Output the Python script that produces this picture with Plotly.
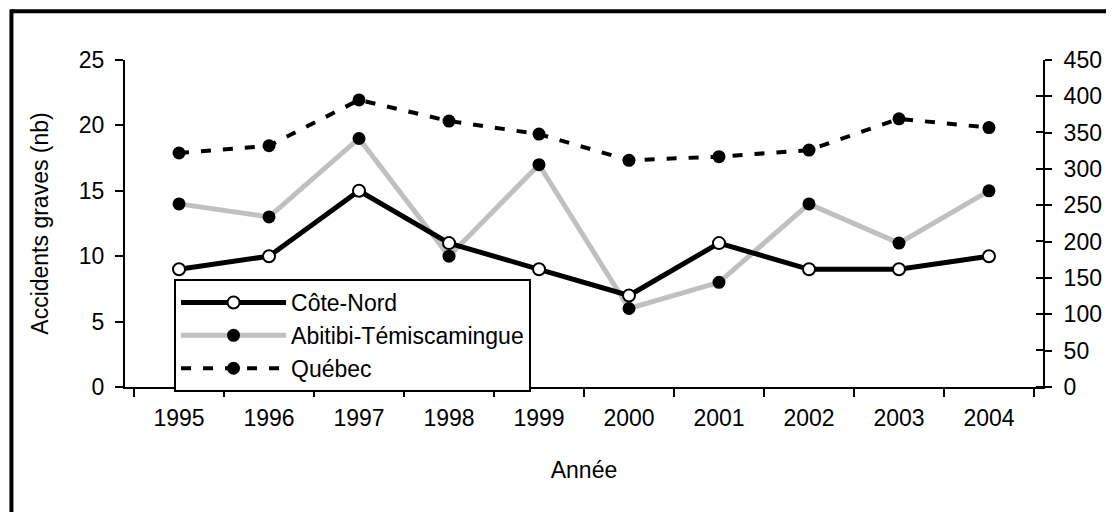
import plotly.graph_objects as go

years = ["1995", "1996", "1997", "1998", "1999", "2000", "2001", "2002", "2003", "2004"]
cote_nord = [9, 10, 15, 11, 9, 7, 11, 9, 9, 10]
abitibi = [14, 13, 19, 10, 17, 6, 8, 14, 11, 15]
quebec = [322, 332, 395, 366, 348, 312, 317, 326, 369, 357]

FONT = "Liberation Sans, Arial, sans-serif"
FS = 23

fig = go.Figure()
fig.add_trace(go.Scatter(
    x=years, y=abitibi, name="Abitibi-Témiscamingue", mode="lines+markers",
    line=dict(color="#c0c0c0", width=5),
    marker=dict(color="black", size=13, line=dict(width=0)),
    legendrank=2,
))
fig.add_trace(go.Scatter(
    x=years, y=cote_nord, name="Côte-Nord", mode="lines+markers",
    line=dict(color="black", width=5),
    marker=dict(color="white", size=12, line=dict(color="black", width=2)),
    legendrank=1,
))
fig.add_trace(go.Scatter(
    x=years, y=quebec, name="Québec", mode="lines+markers", yaxis="y2",
    line=dict(color="black", width=4, dash="10px,12px"),
    marker=dict(color="black", size=13, line=dict(width=0)),
    legendrank=3,
))

# page body adds an 8px offset
W, H = 1106, 504
L, R, T, B = 117, 53, 52, 125
pw, ph = W - L - R, H - T - B

fig.update_layout(
    width=W, height=H,
    margin=dict(l=L, r=R, t=T, b=B),
    paper_bgcolor="white", plot_bgcolor="white",
    font=dict(family=FONT, size=FS, color="black"),
    showlegend=True,
    legend=dict(
        x=(175 - 125) / pw, y=(387 - 279) / ph, xanchor="left", yanchor="top",
        bordercolor="black", borderwidth=2, bgcolor="white",
        font=dict(family=FONT, size=23, color="black"),
        tracegroupgap=0, itemwidth=105,
    ),
    xaxis=dict(
        type="category", showgrid=False, zeroline=False,
        showline=True, linecolor="black", linewidth=2,
        ticks="outside", tickson="boundaries", ticklen=8, tickwidth=2, tickcolor="black",
        title=dict(text="Année", font=dict(size=FS), standoff=32),
        tickfont=dict(size=FS), ticklabelstandoff=9,
    ),
    yaxis=dict(
        range=[0, 25], dtick=5, showgrid=False, zeroline=False,
        showline=True, linecolor="black", linewidth=2,
        ticks="outside", ticklen=8, tickwidth=2, tickcolor="black",
        title=dict(text="Accidents graves (nb)", font=dict(size=FS), standoff=24),
        tickfont=dict(size=FS), ticklabelstandoff=6,
    ),
    yaxis2=dict(
        range=[0, 450], dtick=50, overlaying="y", side="right",
        showgrid=False, zeroline=False,
        showline=True, linecolor="black", linewidth=2,
        ticks="outside", ticklen=7, tickwidth=2, tickcolor="black",
        tickfont=dict(size=FS), ticklabelstandoff=7,
        minor=dict(ticks="inside", tick0=0.5, dtick=50, ticklen=7,
                   tickwidth=2, tickcolor="black", showgrid=False),
    ),
    shapes=[
        dict(type="line", xref="paper", yref="paper",
             x0=(0 - L) / pw, x1=(W + 20 - L) / pw,
             y0=(H - B - 3.3) / ph, y1=(H - B - 3.3) / ph,
             line=dict(color="black", width=4)),
        dict(type="line", xref="paper", yref="paper",
             x0=(1.2 - L) / pw, x1=(1.2 - L) / pw,
             y0=-(B + 20) / ph, y1=(H - B - 1.5) / ph,
             line=dict(color="black", width=4)),
    ],
)

fig.write_html("out.html")
